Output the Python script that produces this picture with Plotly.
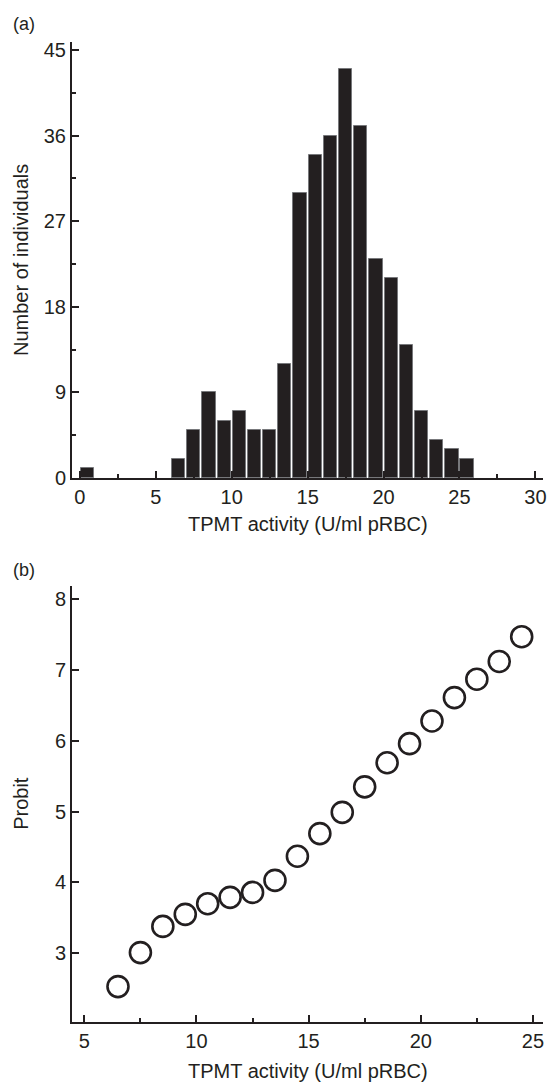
import plotly.graph_objects as go
from plotly.subplots import make_subplots

# (a) histogram of TPMT activity, 1 U/ml bins
bin_left = [0, 6, 7, 8, 9, 10, 11, 12, 13, 14, 15, 16, 17, 18, 19, 20, 21, 22, 23, 24, 25]
counts = [1, 2, 5, 9, 6, 7, 5, 5, 12, 30, 34, 36, 43, 37, 23, 21, 14, 7, 4, 3, 2]

# (b) probit plot
activity = [6.5, 7.5, 8.5, 9.5, 10.5, 11.5, 12.5, 13.5, 14.5, 15.5,
            16.5, 17.5, 18.5, 19.5, 20.5, 21.5, 22.5, 23.5, 24.5]
probit = [2.53, 3.01, 3.38, 3.55, 3.70, 3.79, 3.86, 4.03, 4.37, 4.69,
          4.99, 5.35, 5.69, 5.96, 6.28, 6.61, 6.87, 7.12, 7.47]

ink = "#231f20"
font = "Liberation Sans, Arial, Helvetica, sans-serif"

fig = make_subplots(rows=2, cols=1)

fig.add_trace(go.Bar(
    x=[b + 0.5 for b in bin_left], y=counts, width=0.87,
    marker=dict(color=ink, line=dict(color="#77787b", width=1)),
    showlegend=False), row=1, col=1)

fig.add_trace(go.Scatter(
    x=activity, y=probit, mode="markers",
    marker=dict(symbol="circle-open", size=21, color=ink, line=dict(width=2.6, color=ink)),
    showlegend=False), row=2, col=1)

axis_style = dict(showline=True, linecolor=ink, linewidth=2, ticks="inside",
                  ticklen=7, tickwidth=1.5, tickcolor=ink, showgrid=False,
                  zeroline=False, tickfont=dict(size=20, color=ink, family=font))

fig.update_xaxes(axis_style)
fig.update_yaxes(axis_style)

fig.update_xaxes(range=[-0.52, 30.5], tickvals=[0, 5, 10, 15, 20, 25, 30],
                 minor=dict(ticks="inside", ticklen=4, tickcolor=ink, dtick=2.5, tick0=0),
                 domain=[0, 1], row=1, col=1)
fig.update_yaxes(range=[0, 45.85], tickvals=[0, 9, 18, 27, 36, 45],
                 minor=dict(ticks="inside", ticklen=4, tickcolor=ink, dtick=4.5, tick0=0),
                 domain=[0.5551, 1], row=1, col=1)
fig.update_xaxes(range=[4.45, 25.45], tickvals=[5, 10, 15, 20, 25],
                 minor=dict(ticks="inside", ticklen=4, tickcolor=ink, dtick=2.5, tick0=0),
                 domain=[0, 1], row=2, col=1)
fig.update_yaxes(range=[2.03, 8.19], tickvals=[3, 4, 5, 6, 7, 8],
                 domain=[0, 0.4452], row=2, col=1)

# panel letters, y given in pixels from the top of the page
for text, py in [("(a)", 24), ("(b)", 570)]:
    fig.add_annotation(text=text, xref="paper", yref="paper",
                       x=0, y=(1022 - py) / 980, xshift=-61,
                       xanchor="left", yanchor="middle", showarrow=False,
                       font=dict(size=18, color=ink, family=font))

# axis titles
fig.add_annotation(text="TPMT activity (U/ml pRBC)", xref="x domain", yref="y domain",
                   x=0.5, y=0, yshift=-33, showarrow=False, yanchor="top",
                   font=dict(size=20, color=ink, family=font))
fig.add_annotation(text="TPMT activity (U/ml pRBC)", xref="x2 domain", yref="y2 domain",
                   x=0.5, y=0, yshift=-36, showarrow=False, yanchor="top",
                   font=dict(size=20, color=ink, family=font))
fig.add_annotation(text="Number of individuals", xref="paper", yref="y domain",
                   x=0, xshift=-51, y=0.5, textangle=-90, showarrow=False,
                   xanchor="center", font=dict(size=20, color=ink, family=font))
fig.add_annotation(text="Probit", xref="paper", yref="y2 domain",
                   x=0, xshift=-51, y=0.5, textangle=-90, showarrow=False,
                   xanchor="center", font=dict(size=20, color=ink, family=font))

fig.update_layout(width=552, height=1082, plot_bgcolor="white", paper_bgcolor="white",
                  margin=dict(l=72, r=6, t=42, b=60), bargap=0)

# drop the default page margin so the figure fills the window exactly
fig.write_html("out.html", config={"displayModeBar": False},
               post_script="document.body.style.margin='0';"
                           "document.body.style.overflow='hidden';")
